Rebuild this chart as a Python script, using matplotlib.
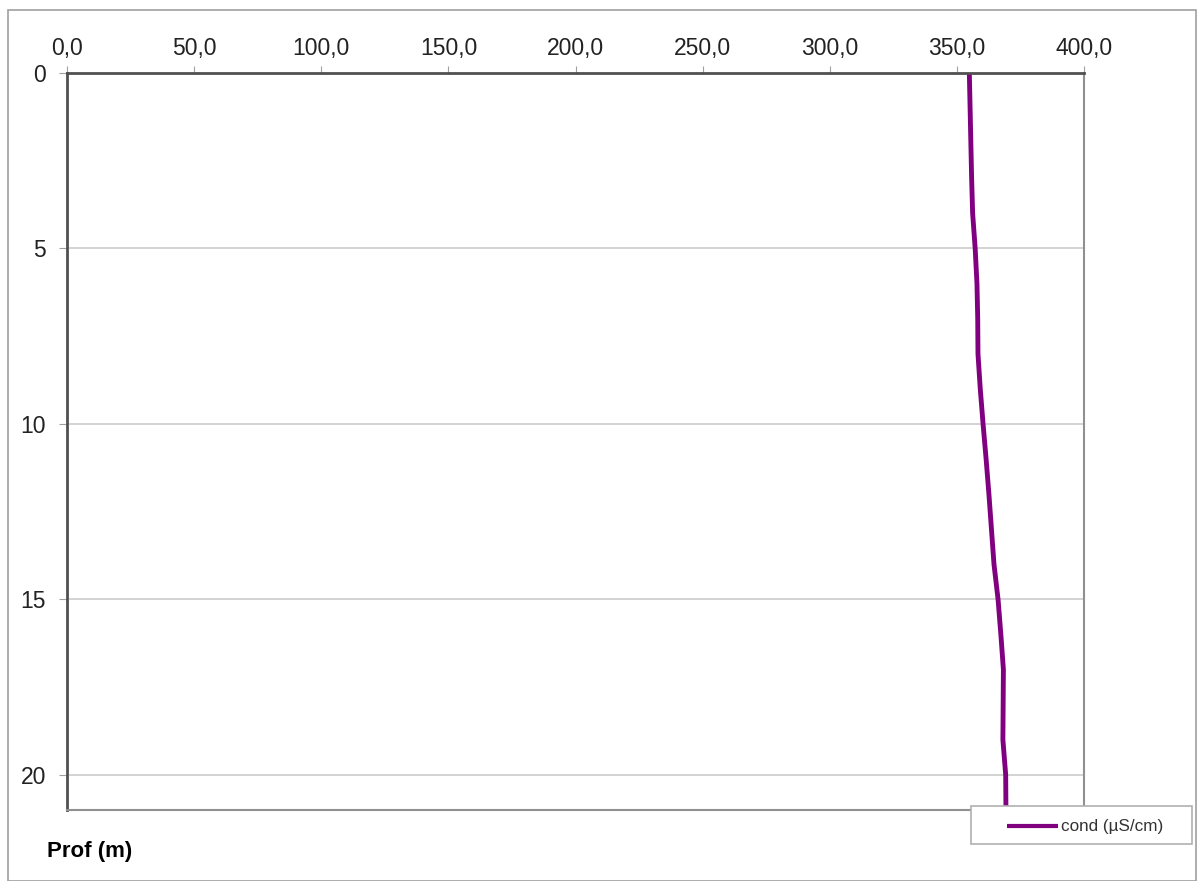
import matplotlib.pyplot as plt
from matplotlib.patches import Rectangle
from matplotlib.ticker import FuncFormatter

plt.rcParams['font.family'] = ['Liberation Sans', 'DejaVu Sans']

# profile data (depth in m, conductivity in uS/cm)
prof = [0, 1, 2, 3, 4, 5, 6, 7, 8, 9, 10, 11, 12, 13, 14, 15, 16, 17, 18, 19, 20, 21]
cond = [354.9, 355.2, 355.5, 355.8, 356.2, 357.2, 357.9, 358.2, 358.3, 359.2, 360.3,
        361.5, 362.6, 363.6, 364.6, 366.2, 367.3, 368.3, 368.2, 368.1, 369.2, 369.3]
xticks = [0, 50, 100, 150, 200, 250, 300, 350, 400]
yticks = [0, 5, 10, 15, 20]

fig = plt.figure(figsize=(12, 8.81), dpi=100)
ax = fig.add_axes([67/1200, 1-810/881, (1084-67)/1200, (810-73)/881])

# outer chart border
fig.patches.append(Rectangle((8/1200, 0), (1196-8)/1200, 1-10/881, transform=fig.transFigure,
                             fill=False, edgecolor='#a0a0a0', lw=1.2))

ln, = ax.plot(cond, prof, color='#800080', lw=3.5, solid_capstyle='butt', solid_joinstyle='round')

ax.set_xlim(0, 400)
ax.set_ylim(21, 0)
ax.set_xticks(xticks)
ax.set_yticks(yticks)
ax.xaxis.set_major_formatter(FuncFormatter(lambda v, p: f'{v:.1f}'.replace('.', ',')))
ax.xaxis.tick_top()
ax.tick_params(axis='x', length=5, color='#a0a0a0', labelsize=16.5, pad=4, labelcolor='#222222')
ax.tick_params(axis='y', length=6, color='#a0a0a0', labelsize=16.5, pad=9, labelcolor='#222222')
ax.grid(axis='y', color='#cccccc', lw=1.2)
ax.set_axisbelow(True)

ax.spines['top'].set_color('#505050')
ax.spines['top'].set_linewidth(2)
ax.spines['left'].set_color('#505050')
ax.spines['left'].set_linewidth(2)
ax.spines['right'].set_color('#909090')
ax.spines['right'].set_linewidth(1.5)
ax.spines['bottom'].set_color('#909090')
ax.spines['bottom'].set_linewidth(1.5)

fig.text(47/1200, 1-852/881, 'Prof (m)', fontsize=16, fontweight='bold', va='center', ha='left')

# legend box
fig.patches.append(Rectangle((971/1200, 1-844/881), (1192-971)/1200, (844-806)/881,
                             transform=fig.transFigure, facecolor='white',
                             edgecolor='#b0b0b0', lw=1.2, zorder=5))
leg = fig.legend([ln], ['cond (µS/cm)'], loc='center left',
                 bbox_to_anchor=(1007/1200, 1-827/881), frameon=False, fontsize=12.3,
                 handlelength=3.0, borderaxespad=0, borderpad=0, handletextpad=0.15)
leg.set_zorder(6)
leg.legend_handles[0].set_linewidth(3)
for t in leg.get_texts():
    t.set_color('#333333')

fig.savefig('out.png', dpi=100)
